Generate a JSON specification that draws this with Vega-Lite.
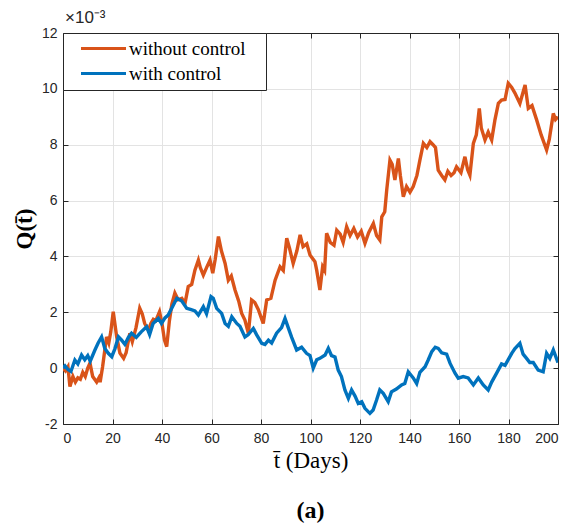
{
  "$schema": "https://vega.github.io/schema/vega-lite/v6.json",
  "width": 495,
  "height": 391,
  "autosize": {"type": "none"},
  "padding": {"left": 63, "top": 33, "right": 12, "bottom": 99},
  "background": "white",
  "title": {"text": "(a)", "orient": "bottom", "anchor": "middle", "font": "Liberation Serif", "fontSize": 24, "fontWeight": "bold", "color": "black", "offset": 27},
  "datasets": {
    "series": [
      {"t": 0, "q": 0.0, "series": "without control"},
      {"t": 1, "q": -0.1, "series": "without control"},
      {"t": 2, "q": 0.05, "series": "without control"},
      {"t": 2.8, "q": -0.66, "series": "without control"},
      {"t": 4, "q": -0.3, "series": "without control"},
      {"t": 5, "q": -0.5, "series": "without control"},
      {"t": 6, "q": -0.35, "series": "without control"},
      {"t": 7, "q": -0.4, "series": "without control"},
      {"t": 8, "q": -0.15, "series": "without control"},
      {"t": 9, "q": -0.3, "series": "without control"},
      {"t": 10, "q": 0.0, "series": "without control"},
      {"t": 10.9, "q": 0.18, "series": "without control"},
      {"t": 12, "q": -0.3, "series": "without control"},
      {"t": 13.6, "q": -0.5, "series": "without control"},
      {"t": 14.5, "q": -0.35, "series": "without control"},
      {"t": 15, "q": -0.5, "series": "without control"},
      {"t": 16, "q": 0.05, "series": "without control"},
      {"t": 17.6, "q": 1.12, "series": "without control"},
      {"t": 18.5, "q": 0.9, "series": "without control"},
      {"t": 19.3, "q": 1.3, "series": "without control"},
      {"t": 20.3, "q": 2.02, "series": "without control"},
      {"t": 21.7, "q": 1.12, "series": "without control"},
      {"t": 23, "q": 0.54, "series": "without control"},
      {"t": 24.5, "q": 0.35, "series": "without control"},
      {"t": 25.5, "q": 0.55, "series": "without control"},
      {"t": 27, "q": 1.25, "series": "without control"},
      {"t": 28, "q": 0.95, "series": "without control"},
      {"t": 29.5, "q": 1.45, "series": "without control"},
      {"t": 31, "q": 2.15, "series": "without control"},
      {"t": 32, "q": 1.95, "series": "without control"},
      {"t": 33, "q": 1.6, "series": "without control"},
      {"t": 34.5, "q": 1.36, "series": "without control"},
      {"t": 35.5, "q": 1.6, "series": "without control"},
      {"t": 36.5, "q": 1.75, "series": "without control"},
      {"t": 37.5, "q": 1.7, "series": "without control"},
      {"t": 39, "q": 2.02, "series": "without control"},
      {"t": 40, "q": 1.6, "series": "without control"},
      {"t": 41, "q": 1.0, "series": "without control"},
      {"t": 41.9, "q": 0.77, "series": "without control"},
      {"t": 43, "q": 1.7, "series": "without control"},
      {"t": 44, "q": 2.3, "series": "without control"},
      {"t": 45.2, "q": 2.69, "series": "without control"},
      {"t": 46.5, "q": 2.45, "series": "without control"},
      {"t": 48, "q": 2.5, "series": "without control"},
      {"t": 49.3, "q": 2.32, "series": "without control"},
      {"t": 50.6, "q": 2.92, "series": "without control"},
      {"t": 52, "q": 3.0, "series": "without control"},
      {"t": 53.3, "q": 3.51, "series": "without control"},
      {"t": 54.7, "q": 3.87, "series": "without control"},
      {"t": 55.5, "q": 3.6, "series": "without control"},
      {"t": 56.7, "q": 3.33, "series": "without control"},
      {"t": 58, "q": 3.6, "series": "without control"},
      {"t": 59.4, "q": 3.87, "series": "without control"},
      {"t": 60.5, "q": 3.4, "series": "without control"},
      {"t": 61.5, "q": 3.9, "series": "without control"},
      {"t": 62.8, "q": 4.71, "series": "without control"},
      {"t": 64, "q": 4.2, "series": "without control"},
      {"t": 65.5, "q": 3.75, "series": "without control"},
      {"t": 66.8, "q": 3.15, "series": "without control"},
      {"t": 68, "q": 3.3, "series": "without control"},
      {"t": 69.5, "q": 2.8, "series": "without control"},
      {"t": 71, "q": 2.4, "series": "without control"},
      {"t": 72.2, "q": 1.96, "series": "without control"},
      {"t": 73.5, "q": 1.72, "series": "without control"},
      {"t": 74.9, "q": 1.25, "series": "without control"},
      {"t": 76.2, "q": 2.44, "series": "without control"},
      {"t": 77.5, "q": 2.35, "series": "without control"},
      {"t": 78.9, "q": 2.1, "series": "without control"},
      {"t": 80.9, "q": 1.6, "series": "without control"},
      {"t": 82.3, "q": 2.44, "series": "without control"},
      {"t": 84, "q": 2.5, "series": "without control"},
      {"t": 85.7, "q": 3.15, "series": "without control"},
      {"t": 87.7, "q": 3.63, "series": "without control"},
      {"t": 89, "q": 3.5, "series": "without control"},
      {"t": 90.4, "q": 4.65, "series": "without control"},
      {"t": 91.5, "q": 4.3, "series": "without control"},
      {"t": 93, "q": 3.75, "series": "without control"},
      {"t": 94.5, "q": 4.2, "series": "without control"},
      {"t": 95.8, "q": 4.77, "series": "without control"},
      {"t": 97, "q": 4.35, "series": "without control"},
      {"t": 98.5, "q": 4.45, "series": "without control"},
      {"t": 99.8, "q": 4.05, "series": "without control"},
      {"t": 101.8, "q": 3.81, "series": "without control"},
      {"t": 102.5, "q": 3.51, "series": "without control"},
      {"t": 103.8, "q": 2.8, "series": "without control"},
      {"t": 104.9, "q": 3.63, "series": "without control"},
      {"t": 105.7, "q": 3.5, "series": "without control"},
      {"t": 106.5, "q": 4.83, "series": "without control"},
      {"t": 108, "q": 4.5, "series": "without control"},
      {"t": 109.5, "q": 4.4, "series": "without control"},
      {"t": 110.6, "q": 4.94, "series": "without control"},
      {"t": 112, "q": 4.8, "series": "without control"},
      {"t": 113.2, "q": 4.5, "series": "without control"},
      {"t": 114.6, "q": 5.06, "series": "without control"},
      {"t": 116, "q": 4.75, "series": "without control"},
      {"t": 117.5, "q": 5.0, "series": "without control"},
      {"t": 119, "q": 4.7, "series": "without control"},
      {"t": 120.5, "q": 4.9, "series": "without control"},
      {"t": 122, "q": 4.47, "series": "without control"},
      {"t": 123.5, "q": 4.85, "series": "without control"},
      {"t": 125.4, "q": 5.18, "series": "without control"},
      {"t": 126.7, "q": 4.75, "series": "without control"},
      {"t": 128, "q": 4.59, "series": "without control"},
      {"t": 128.8, "q": 5.42, "series": "without control"},
      {"t": 130, "q": 5.6, "series": "without control"},
      {"t": 130.8, "q": 6.38, "series": "without control"},
      {"t": 132.1, "q": 7.45, "series": "without control"},
      {"t": 133, "q": 7.3, "series": "without control"},
      {"t": 134.1, "q": 6.74, "series": "without control"},
      {"t": 135.5, "q": 7.51, "series": "without control"},
      {"t": 136.3, "q": 6.9, "series": "without control"},
      {"t": 137.5, "q": 6.14, "series": "without control"},
      {"t": 138.8, "q": 6.5, "series": "without control"},
      {"t": 140.2, "q": 6.3, "series": "without control"},
      {"t": 141.5, "q": 6.5, "series": "without control"},
      {"t": 143, "q": 6.9, "series": "without control"},
      {"t": 144.2, "q": 7.45, "series": "without control"},
      {"t": 145.6, "q": 8.05, "series": "without control"},
      {"t": 147, "q": 7.9, "series": "without control"},
      {"t": 148.3, "q": 8.11, "series": "without control"},
      {"t": 149.5, "q": 8.0, "series": "without control"},
      {"t": 150.5, "q": 7.9, "series": "without control"},
      {"t": 151.6, "q": 7.09, "series": "without control"},
      {"t": 153, "q": 6.9, "series": "without control"},
      {"t": 154.3, "q": 6.74, "series": "without control"},
      {"t": 155.5, "q": 7.05, "series": "without control"},
      {"t": 156.8, "q": 6.9, "series": "without control"},
      {"t": 158, "q": 7.0, "series": "without control"},
      {"t": 159, "q": 7.21, "series": "without control"},
      {"t": 160.8, "q": 7.0, "series": "without control"},
      {"t": 162.4, "q": 7.57, "series": "without control"},
      {"t": 163.5, "q": 7.1, "series": "without control"},
      {"t": 164.4, "q": 6.91, "series": "without control"},
      {"t": 165.8, "q": 8.05, "series": "without control"},
      {"t": 167, "q": 8.35, "series": "without control"},
      {"t": 168.2, "q": 9.3, "series": "without control"},
      {"t": 169, "q": 8.6, "series": "without control"},
      {"t": 170.5, "q": 8.17, "series": "without control"},
      {"t": 171.8, "q": 8.45, "series": "without control"},
      {"t": 173.2, "q": 8.17, "series": "without control"},
      {"t": 174.5, "q": 8.88, "series": "without control"},
      {"t": 175.9, "q": 9.48, "series": "without control"},
      {"t": 177.2, "q": 9.6, "series": "without control"},
      {"t": 178.6, "q": 9.62, "series": "without control"},
      {"t": 179.9, "q": 10.2, "series": "without control"},
      {"t": 181.3, "q": 10.05, "series": "without control"},
      {"t": 182.6, "q": 9.85, "series": "without control"},
      {"t": 184.6, "q": 9.48, "series": "without control"},
      {"t": 186.7, "q": 10.14, "series": "without control"},
      {"t": 188, "q": 9.3, "series": "without control"},
      {"t": 189.5, "q": 9.4, "series": "without control"},
      {"t": 191.4, "q": 8.88, "series": "without control"},
      {"t": 193.2, "q": 8.35, "series": "without control"},
      {"t": 195.4, "q": 7.81, "series": "without control"},
      {"t": 196.5, "q": 8.2, "series": "without control"},
      {"t": 198.1, "q": 9.12, "series": "without control"},
      {"t": 199, "q": 8.9, "series": "without control"},
      {"t": 200, "q": 9.0, "series": "without control"},
      {"t": 0, "q": 0.0, "series": "with control"},
      {"t": 0.8, "q": 0.08, "series": "with control"},
      {"t": 2, "q": -0.05, "series": "with control"},
      {"t": 3.2, "q": -0.12, "series": "with control"},
      {"t": 4.8, "q": 0.29, "series": "with control"},
      {"t": 6, "q": 0.15, "series": "with control"},
      {"t": 7.5, "q": 0.47, "series": "with control"},
      {"t": 8.8, "q": 0.3, "series": "with control"},
      {"t": 10, "q": 0.45, "series": "with control"},
      {"t": 11, "q": 0.25, "series": "with control"},
      {"t": 12.9, "q": 0.65, "series": "with control"},
      {"t": 14.2, "q": 0.9, "series": "with control"},
      {"t": 15.6, "q": 1.12, "series": "with control"},
      {"t": 16.9, "q": 0.7, "series": "with control"},
      {"t": 18.3, "q": 0.53, "series": "with control"},
      {"t": 19.7, "q": 0.41, "series": "with control"},
      {"t": 21, "q": 0.7, "series": "with control"},
      {"t": 22.4, "q": 1.12, "series": "with control"},
      {"t": 23.7, "q": 1.0, "series": "with control"},
      {"t": 25, "q": 0.85, "series": "with control"},
      {"t": 26.4, "q": 1.1, "series": "with control"},
      {"t": 27.7, "q": 1.25, "series": "with control"},
      {"t": 29.6, "q": 1.1, "series": "with control"},
      {"t": 31.6, "q": 1.3, "series": "with control"},
      {"t": 33.8, "q": 1.48, "series": "with control"},
      {"t": 35, "q": 1.2, "series": "with control"},
      {"t": 36.4, "q": 1.6, "series": "with control"},
      {"t": 38.5, "q": 1.78, "series": "with control"},
      {"t": 39.8, "q": 1.6, "series": "with control"},
      {"t": 41.2, "q": 1.8, "series": "with control"},
      {"t": 42.5, "q": 1.9, "series": "with control"},
      {"t": 44.6, "q": 2.26, "series": "with control"},
      {"t": 46, "q": 2.5, "series": "with control"},
      {"t": 48, "q": 2.4, "series": "with control"},
      {"t": 50, "q": 2.14, "series": "with control"},
      {"t": 51.5, "q": 2.1, "series": "with control"},
      {"t": 53.3, "q": 2.05, "series": "with control"},
      {"t": 54.7, "q": 1.9, "series": "with control"},
      {"t": 56.7, "q": 2.2, "series": "with control"},
      {"t": 58, "q": 1.95, "series": "with control"},
      {"t": 59.8, "q": 2.56, "series": "with control"},
      {"t": 60.7, "q": 2.5, "series": "with control"},
      {"t": 62.1, "q": 2.14, "series": "with control"},
      {"t": 64.1, "q": 1.96, "series": "with control"},
      {"t": 65.5, "q": 1.6, "series": "with control"},
      {"t": 66.8, "q": 1.5, "series": "with control"},
      {"t": 68.2, "q": 1.84, "series": "with control"},
      {"t": 70.2, "q": 1.6, "series": "with control"},
      {"t": 71.5, "q": 1.5, "series": "with control"},
      {"t": 73.5, "q": 1.12, "series": "with control"},
      {"t": 74.8, "q": 1.2, "series": "with control"},
      {"t": 76.9, "q": 1.42, "series": "with control"},
      {"t": 78.2, "q": 1.2, "series": "with control"},
      {"t": 80.3, "q": 0.89, "series": "with control"},
      {"t": 81.6, "q": 0.85, "series": "with control"},
      {"t": 83, "q": 1.0, "series": "with control"},
      {"t": 84.3, "q": 0.9, "series": "with control"},
      {"t": 86.3, "q": 1.25, "series": "with control"},
      {"t": 88.3, "q": 1.45, "series": "with control"},
      {"t": 89.7, "q": 1.78, "series": "with control"},
      {"t": 91, "q": 1.45, "series": "with control"},
      {"t": 92.4, "q": 1.1, "series": "with control"},
      {"t": 94.4, "q": 0.65, "series": "with control"},
      {"t": 96.4, "q": 0.75, "series": "with control"},
      {"t": 98.4, "q": 0.53, "series": "with control"},
      {"t": 99.8, "q": 0.45, "series": "with control"},
      {"t": 101.1, "q": 0.0, "series": "with control"},
      {"t": 102.5, "q": 0.3, "series": "with control"},
      {"t": 103.8, "q": 0.35, "series": "with control"},
      {"t": 105.9, "q": 0.47, "series": "with control"},
      {"t": 107.2, "q": 0.71, "series": "with control"},
      {"t": 108.5, "q": 0.45, "series": "with control"},
      {"t": 109.9, "q": 0.4, "series": "with control"},
      {"t": 111.2, "q": -0.07, "series": "with control"},
      {"t": 112.5, "q": -0.3, "series": "with control"},
      {"t": 113.9, "q": -0.78, "series": "with control"},
      {"t": 115.3, "q": -1.08, "series": "with control"},
      {"t": 116.6, "q": -0.78, "series": "with control"},
      {"t": 118, "q": -1.0, "series": "with control"},
      {"t": 119.3, "q": -1.26, "series": "with control"},
      {"t": 120.7, "q": -1.2, "series": "with control"},
      {"t": 122, "q": -1.44, "series": "with control"},
      {"t": 124, "q": -1.62, "series": "with control"},
      {"t": 125.3, "q": -1.5, "series": "with control"},
      {"t": 126.7, "q": -1.14, "series": "with control"},
      {"t": 128, "q": -0.78, "series": "with control"},
      {"t": 129.4, "q": -0.9, "series": "with control"},
      {"t": 131.4, "q": -1.2, "series": "with control"},
      {"t": 132.7, "q": -0.85, "series": "with control"},
      {"t": 134.7, "q": -0.75, "series": "with control"},
      {"t": 136.8, "q": -0.6, "series": "with control"},
      {"t": 138.1, "q": -0.55, "series": "with control"},
      {"t": 139.5, "q": -0.13, "series": "with control"},
      {"t": 141.5, "q": -0.35, "series": "with control"},
      {"t": 142.9, "q": -0.55, "series": "with control"},
      {"t": 144.2, "q": -0.15, "series": "with control"},
      {"t": 146.3, "q": 0.05, "series": "with control"},
      {"t": 147.6, "q": 0.3, "series": "with control"},
      {"t": 149, "q": 0.59, "series": "with control"},
      {"t": 150.4, "q": 0.75, "series": "with control"},
      {"t": 151.6, "q": 0.71, "series": "with control"},
      {"t": 153, "q": 0.55, "series": "with control"},
      {"t": 155, "q": 0.5, "series": "with control"},
      {"t": 156.4, "q": 0.17, "series": "with control"},
      {"t": 158.4, "q": -0.18, "series": "with control"},
      {"t": 159.7, "q": -0.36, "series": "with control"},
      {"t": 161.7, "q": -0.3, "series": "with control"},
      {"t": 163.7, "q": -0.35, "series": "with control"},
      {"t": 165.8, "q": -0.6, "series": "with control"},
      {"t": 167.8, "q": -0.35, "series": "with control"},
      {"t": 169.8, "q": -0.6, "series": "with control"},
      {"t": 171.8, "q": -0.78, "series": "with control"},
      {"t": 173.2, "q": -0.5, "series": "with control"},
      {"t": 175.2, "q": -0.18, "series": "with control"},
      {"t": 177.2, "q": 0.15, "series": "with control"},
      {"t": 178.6, "q": 0.1, "series": "with control"},
      {"t": 181.3, "q": 0.53, "series": "with control"},
      {"t": 182.6, "q": 0.7, "series": "with control"},
      {"t": 184.6, "q": 0.89, "series": "with control"},
      {"t": 185.9, "q": 0.5, "series": "with control"},
      {"t": 187.3, "q": 0.35, "series": "with control"},
      {"t": 188.6, "q": 0.2, "series": "with control"},
      {"t": 190, "q": 0.2, "series": "with control"},
      {"t": 192, "q": -0.07, "series": "with control"},
      {"t": 194, "q": -0.13, "series": "with control"},
      {"t": 195.4, "q": 0.53, "series": "with control"},
      {"t": 196.7, "q": 0.35, "series": "with control"},
      {"t": 198.1, "q": 0.65, "series": "with control"},
      {"t": 200, "q": 0.2, "series": "with control"}
    ],
    "note": [{"t": 0, "q": 12, "label": "×10⁻³"}]
  },
  "layer": [
    {
      "data": {"name": "series"},
      "mark": {"type": "line", "strokeWidth": 3.4, "clip": true},
      "encoding": {
        "x": {
          "field": "t", "type": "quantitative",
          "scale": {"domain": [0, 200], "nice": false, "zero": false},
          "axis": {
            "orient": "bottom", "values": [0, 20, 40, 60, 80, 100, 120, 140, 160, 180, 200],
            "grid": true, "title": "t\u0304 (Days)",
            "titleFont": "Liberation Serif", "titleFontSize": 23, "titleFontWeight": "normal", "titleColor": "black",
            "titleY": 36, "titleBaseline": "middle", "labelPadding": 12
          }
        },
        "y": {
          "field": "q", "type": "quantitative",
          "scale": {"domain": [-2, 12], "nice": false, "zero": false},
          "axis": {
            "orient": "left", "values": [-2, 0, 2, 4, 6, 8, 10, 12],
            "labelExpr": "toString(datum.value)",
            "grid": true, "title": "Q(t\u0304)",
            "titleFont": "Liberation Serif", "titleFontSize": 23, "titleFontWeight": "bold", "titleColor": "black",
            "titleX": -39, "titleY": 195.5, "titleAngle": -90, "titleBaseline": "middle", "titleAlign": "center", "labelPadding": 11
          }
        },
        "color": {
          "field": "series", "type": "nominal",
          "scale": {"domain": ["without control", "with control"], "range": ["#D95319", "#0072BD"]},
          "legend": {
            "title": null, "orient": "top-left", "offset": 0, "padding": 6,
            "strokeColor": "#262626", "fillColor": "white",
            "symbolType": "M0.333,0H6.333", "symbolSize": 225, "symbolStrokeWidth": 3,
            "labelFont": "Liberation Serif", "labelFontSize": 19, "labelColor": "black",
            "labelOffset": 41, "rowPadding": 5, "labelExpr": "datum.label + '\u2800'"
          }
        }
      }
    },
    {
      "data": {"name": "note"},
      "mark": {"type": "text", "align": "left", "baseline": "alphabetic", "dx": 2, "dy": -10, "font": "Liberation Sans", "fontSize": 17, "color": "#262626"},
      "encoding": {
        "x": {
          "field": "t", "type": "quantitative",
          "axis": {"orient": "top", "values": [0, 20, 40, 60, 80, 100, 120, 140, 160, 180, 200], "labels": false, "grid": false, "title": null}
        },
        "y": {
          "field": "q", "type": "quantitative",
          "axis": {"orient": "right", "values": [-2, 0, 2, 4, 6, 8, 10, 12], "labels": false, "grid": false, "title": null}
        },
        "text": {"field": "label"}
      }
    }
  ],
  "resolve": {"axis": {"x": "independent", "y": "independent"}},
  "config": {
    "view": {"stroke": null},
    "axis": {
      "domainColor": "#262626", "domainWidth": 1,
      "tickColor": "#262626", "tickSize": -5, "tickWidth": 1,
      "gridColor": "#e3e3e3", "gridWidth": 1,
      "labelFont": "Liberation Sans", "labelFontSize": 14, "labelColor": "#262626"
    }
  }
}
